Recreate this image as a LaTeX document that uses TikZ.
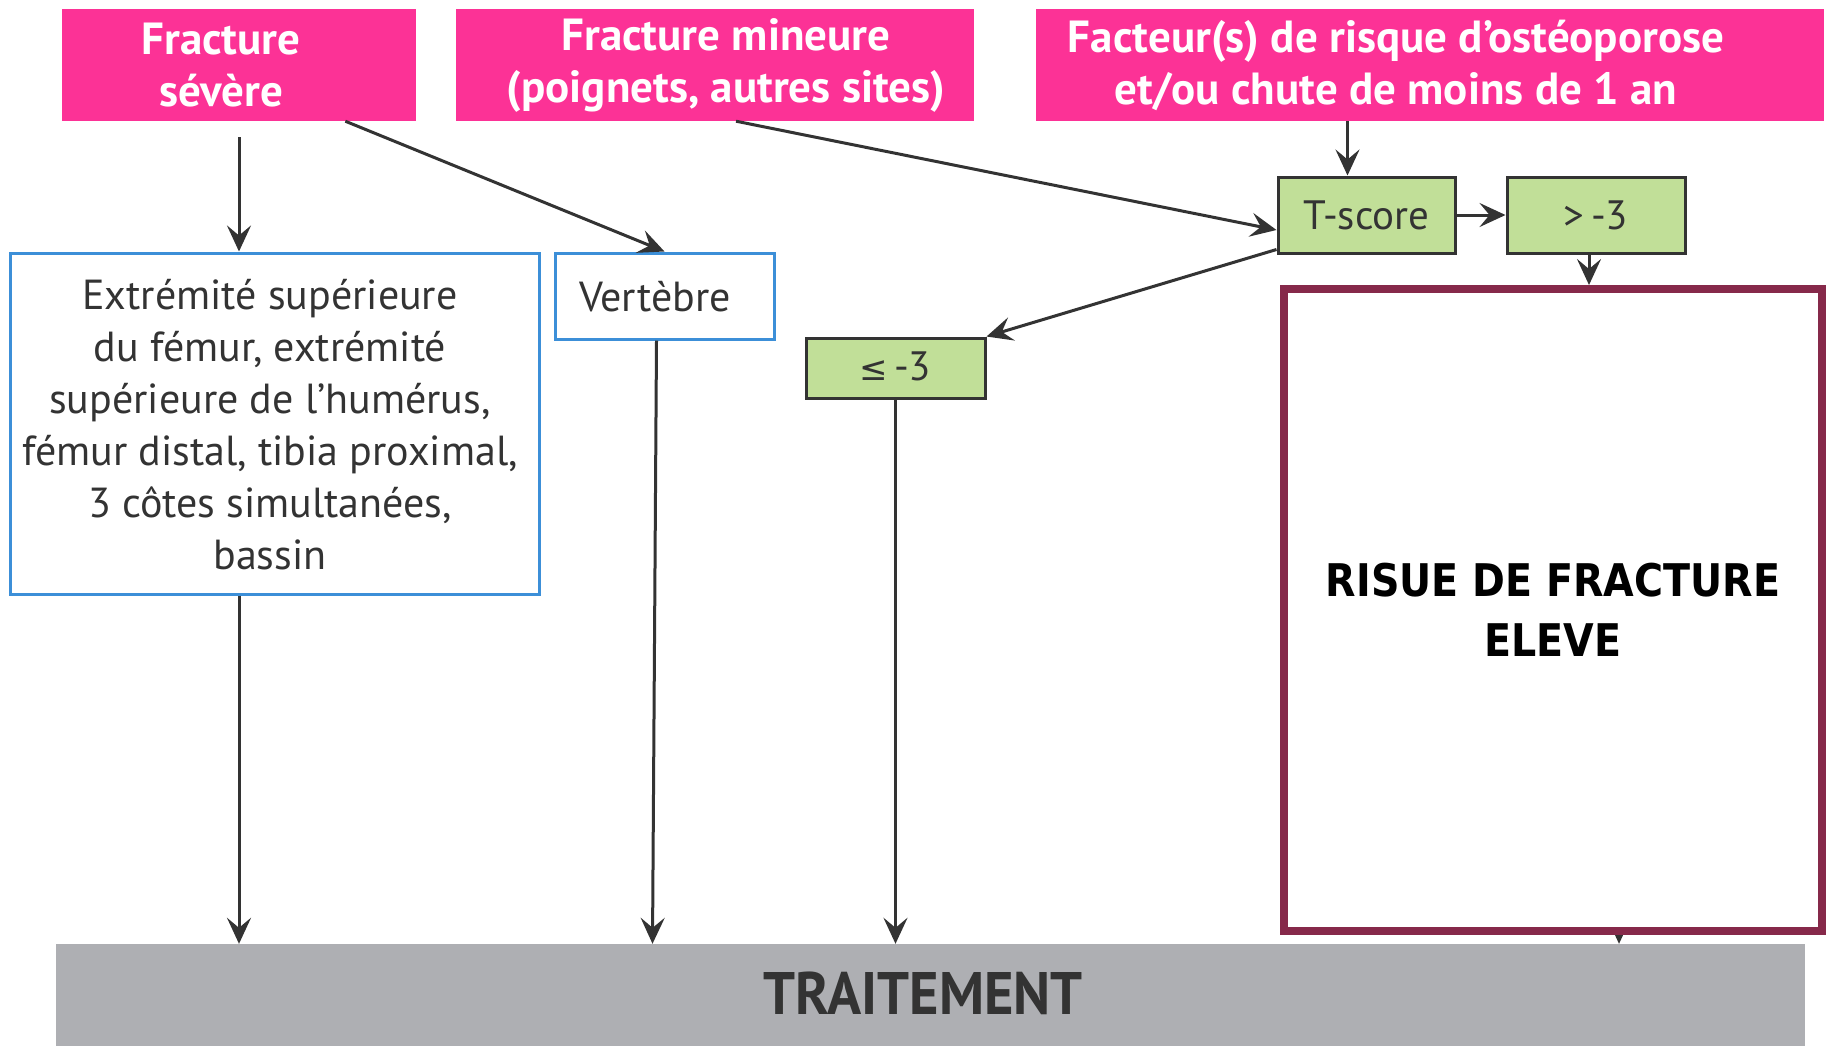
\documentclass[tikz,border=0pt]{standalone}
\usepackage{fontspec}
\setmainfont{PT Sans}
\newfontfamily\riskfont{DejaVu Sans}
\usetikzlibrary{arrows.meta,calc}
\definecolor{pinkc}{HTML}{FC3296}
\definecolor{greenc}{HTML}{C1DF98}
\definecolor{bluec}{HTML}{3C8FD8}
\definecolor{grayc}{HTML}{AEAFB3}
\definecolor{redc}{HTML}{86294A}
\definecolor{arrc}{HTML}{333333}
\tikzset{
  pinkbox/.style={fill=pinkc,draw=none,minimum height=112pt,inner sep=0pt},
  pinktext/.style={text=white,font=\fontsize{45}{52}\selectfont\bfseries,align=center,inner sep=0pt},
  bluebox/.style={draw=bluec,line width=3pt,fill=white,inner sep=0pt,align=center,font=\fontsize{42}{52}\selectfont,text=arrc},
  greenbox/.style={draw=arrc,line width=3pt,fill=greenc,inner sep=0pt,font=\fontsize{41}{52}\selectfont,text=arrc},
  arr/.style={draw=arrc,line width=3pt,-{Stealth[length=26pt,width=24pt,inset=10pt]}},
}
\begin{document}
\begin{tikzpicture}[x=1pt,y=-1pt]
\useasboundingbox (0,0) rectangle (1827,1045);
% top pink boxes
\node[pinkbox,minimum width=354pt] (p1) at (239,65) {};
\node[pinktext] (t1) at (221,65) {Fracture\\sévère};
\node[pinkbox,minimum width=518pt] (p2) at (715,65) {};
\node[pinktext] (t2) at (726,65) {Fracture mineure\\(poignets, autres sites)};
\node[pinkbox,minimum width=788pt] (p3) at (1430,65) {};
\node[pinktext] (t3) at (1396,65) {Facteur(s) de risque d’ostéoporose\\et/ou chute de moins de 1 an};
% blue boxes
\node[bluebox,minimum width=529pt,minimum height=341pt] (b1) at (274.5,423.5) {};
\node[bluebox,draw=none,fill=none] (bt) at (270,425) {Extrémité supérieure\\du fémur, extrémité\\supérieure de l’humérus,\\fémur distal, tibia proximal,\\3 côtes simultanées,\\bassin};
\node[bluebox,minimum width=219pt,minimum height=86pt] (vt) at (664.5,296) {};
\node[bluebox,draw=none,fill=none] (vtt) at (655,297) {Vertèbre};
% green boxes
\node[greenbox,minimum width=177pt,minimum height=76pt] (ts) at (1366.5,215) {T-score};
\node[greenbox,minimum width=178pt,minimum height=76pt] (gt) at (1596,215) {>\,-3};
\node[greenbox,minimum width=179pt,minimum height=60pt] (le) at (895.5,368) {\raisebox{4pt}{\riskfont\fontsize{34}{40}\selectfont ≤\,\fontspec{PT Sans}\fontsize{41}{52}\selectfont -3}};
% gray bar
\node[fill=grayc,minimum width=1749pt,minimum height=120pt,inner sep=0pt] (gray) at (930.5,1004) {};
\node[text=arrc,font=\fontsize{60}{62}\selectfont\bfseries,inner sep=0pt] (trt) at (923,993) {\scalebox{0.94}[1]{TRAITEMENT}};
% hidden arrow under risk box
\coordinate (hid) at (1619,900);
\draw[arr] (hid) -- (hid |- gray.north);
% risk box
\node[draw=redc,line width=8pt,fill=white,minimum width=538pt,minimum height=642pt,inner sep=0pt] (rk) at (1553,610) {};
\node[font=\riskfont\fontsize{45}{60}\selectfont\bfseries,align=center,inner sep=0pt] (rkt) at (1553,610) {\scalebox{0.88}[1]{RISUE DE FRACTURE}\\\scalebox{0.88}[1]{ELEVE}};
% arrows
\draw[arr] ([yshift=-16pt]p1.south) -- (b1.north -| p1.south);
\draw[arr] ($(p1.south west)!0.8!(p1.south east)$) -- (vt.north);
\draw[arr] ([xshift=21pt]p2.south) -- ([yshift=-15pt]ts.west);
\draw[arr] ([xshift=-19pt]ts.north |- p3.south) -- ([xshift=-19pt]ts.north);
\draw[arr] (ts.east) -- (gt.west);
\draw[arr] ([xshift=-7pt]gt.south) -- ([xshift=-7pt]gt.south |- rk.north);
\draw[arr] ([yshift=5pt]ts.south west) -- (le.north east);
\draw[arr] (b1.south -| p1.south) -- (gray.north -| p1.south);
\draw[arr] ([xshift=-8pt]vt.south) -- ([xshift=-12pt]vt.south |- gray.north);
\draw[arr] (le.south) -- (le.south |- gray.north);
\end{tikzpicture}
\end{document}
